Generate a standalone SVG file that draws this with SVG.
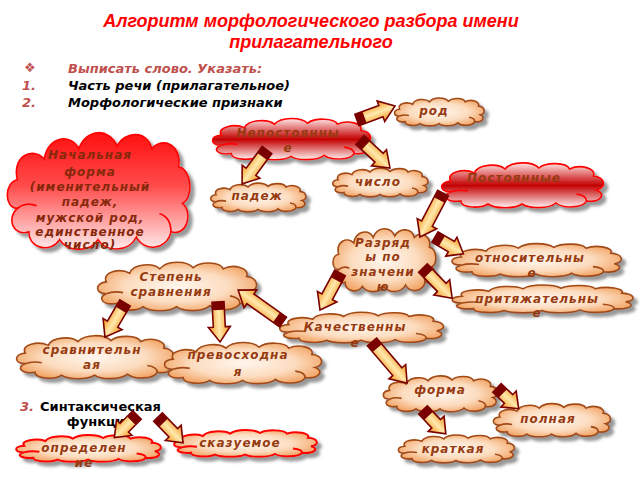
<svg xmlns="http://www.w3.org/2000/svg" xmlns:xlink="http://www.w3.org/1999/xlink" width="640" height="480" viewBox="0 0 640 480">
<style>
.title{font-family:"Liberation Sans",Arial,sans-serif;font-weight:bold;font-style:italic;font-size:18px;fill:#ff0000;text-anchor:middle}
.li{font-family:"DejaVu Sans",sans-serif;font-weight:bold;font-style:italic;font-size:13px;fill:#000}
.lr{fill:#c0504d}
.t{font-family:"DejaVu Sans",sans-serif;font-weight:bold;font-style:italic;font-size:12px;letter-spacing:1px;fill:#963a10;text-anchor:middle}
.td{fill:#86280a}
.syn{font-family:"DejaVu Sans",sans-serif;font-weight:bold;font-size:13px;fill:#000}
.co{fill:url(#gOr);stroke:#a24a16;stroke-width:1.6;filter:url(#sh)}
.cr{fill:url(#gOr);stroke:#ff0000;stroke-width:2;filter:url(#sh)}
.cbig{fill:url(#gRed);stroke:#ff0000;stroke-width:1.6;filter:url(#sh)}
.cband{fill:url(#gBand);stroke:#ff0000;stroke-width:1.6;filter:url(#sh)}
.ab{fill:url(#gAr);stroke:#7a0000;stroke-width:1.6;stroke-linejoin:miter}
.at{fill:#7a0000}
</style>
<defs>
<filter id="sh" x="-10%" y="-10%" width="130%" height="140%">
<feDropShadow dx="4" dy="4" stdDeviation="1.5" flood-color="#777" flood-opacity="0.75"/>
</filter>
<radialGradient id="gOr" cx="0.5" cy="0.5" r="0.6">
<stop offset="0" stop-color="#fff6ee"/>
<stop offset="0.55" stop-color="#fcdcbf"/>
<stop offset="1" stop-color="#f09a55"/>
</radialGradient>
<linearGradient id="gRed" x1="0" y1="0" x2="0" y2="1">
<stop offset="0" stop-color="#ff1010"/>
<stop offset="0.45" stop-color="#ff4a4a"/>
<stop offset="1" stop-color="#ffeaea"/>
</linearGradient>
<linearGradient id="gBand" x1="0" y1="0" x2="0" y2="1">
<stop offset="0" stop-color="#ffe6e6"/>
<stop offset="0.5" stop-color="#c40000"/>
<stop offset="1" stop-color="#fff2f2"/>
</linearGradient>
<linearGradient id="gAr" x1="0" y1="0" x2="0" y2="1">
<stop offset="0" stop-color="#f59418"/>
<stop offset="0.5" stop-color="#ffe9ad"/>
<stop offset="1" stop-color="#f59418"/>
</linearGradient>
<symbol id="cloud" viewBox="0 0 100 50" preserveAspectRatio="none" overflow="visible">
<path vector-effect="non-scaling-stroke" d="M8,34 C1,34 1,24 8,23 C5,14 16,10 22,15 C24,6 36,5 40,11 C44,3 56,3 60,10 C64,4 76,4 78,11 C84,6 94,10 92,18 C99,19 100,30 94,32 C100,36 96,45 88,43 C86,50 74,51 70,45 C66,51 54,51 50,46 C46,51 34,51 30,46 C26,51 14,50 14,43 C6,45 2,38 8,34 Z"/>
<path vector-effect="non-scaling-stroke" fill="none" d="M88,43 C88,39 86,37 82,36 M8,34 C11,32 15,32 18,33"/>
</symbol>
</defs>

<g id="header">
<text class="title" x="311" y="27">Алгоритм морфологического разбора имени</text>
<text class="title" x="311" y="48">прилагательного</text>
<text class="li lr" x="24" y="72" font-size="10" font-style="normal">❖</text>
<text class="li lr" x="68" y="73">Выписать слово. Указать:</text>
<text class="li lr" x="22" y="90">1.</text>
<text class="li" x="68" y="90">Часть речи (прилагательное)</text>
<text class="li lr" x="22" y="107">2.</text>
<text class="li" x="68" y="107">Морфологические признаки</text>
</g>

<g id="node-rod"><use xlink:href="#cloud" class="co" x="392" y="95" width="94" height="31"/><text class="t" x="434" y="115">род</text></g>
<g id="node-nepost"><use xlink:href="#cloud" class="cband" x="208" y="114" width="166" height="46"/><text class="t" x="288" y="137">Непостоянны</text><text class="t" x="288" y="152">е</text></g>
<g id="node-chislo"><use xlink:href="#cloud" class="co" x="330" y="165" width="100" height="32"/><text class="t" x="378" y="186">число</text></g>
<g id="node-post"><use xlink:href="#cloud" class="cband" x="437" y="158" width="170" height="50"/><text class="t" x="514" y="182">Постоянные</text></g>
<g id="node-padezh"><use xlink:href="#cloud" class="co" x="208" y="180" width="100" height="32"/><text class="t" x="257" y="200">падеж</text></g>
<g id="node-nach"><use xlink:href="#cloud" class="cbig" x="2" y="120" width="192" height="130"/>
<text class="t td" x="90" y="159">Начальная</text>
<text class="t td" x="90" y="176">форма</text>
<text class="t td" x="90" y="191">(именительный</text>
<text class="t td" x="90" y="206">падеж,</text>
<text class="t td" x="90" y="222">мужской род,</text>
<text class="t td" x="90" y="236">единственное</text>
<text class="t td" x="90" y="249">число)</text>
</g>
<g id="node-razr"><use xlink:href="#cloud" class="co" x="330" y="222" width="108" height="70"/>
<text class="t" x="383" y="247">Разряд</text><text class="t" x="383" y="261">ы по</text><text class="t" x="383" y="276">значени</text><text class="t" x="383" y="291">ю</text></g>
<g id="node-otn"><use xlink:href="#cloud" class="co" x="447" y="240" width="178" height="37"/><text class="t" x="530" y="262">относительны</text><text class="t" x="532" y="277">е</text></g>
<g id="node-prit"><use xlink:href="#cloud" class="co" x="447" y="282" width="190" height="31"/><text class="t" x="537" y="303">притяжательны</text><text class="t" x="537" y="317">е</text></g>
<g id="node-step"><use xlink:href="#cloud" class="co" x="93" y="257" width="167" height="54"/><text class="t" x="171" y="281">Степень</text><text class="t" x="171" y="296">сравнения</text></g>
<g id="node-kach"><use xlink:href="#cloud" class="co" x="275" y="309" width="172" height="34"/><text class="t" x="355" y="331">Качественны</text><text class="t" x="355" y="347">е</text></g>
<g id="node-sravn"><use xlink:href="#cloud" class="co" x="12" y="331" width="165" height="48"/><text class="t" x="92" y="354">сравнительн</text><text class="t" x="92" y="369">ая</text></g>
<g id="node-prevos"><use xlink:href="#cloud" class="co" x="160" y="338" width="165" height="46"/><text class="t" x="238" y="359">превосходна</text><text class="t" x="238" y="376">я</text></g>
<g id="node-forma"><use xlink:href="#cloud" class="co" x="380" y="372" width="120" height="40"/><text class="t" x="440" y="394">форма</text></g>
<g id="node-polnaya"><use xlink:href="#cloud" class="co" x="490" y="400" width="123" height="37"/><text class="t" x="548" y="423">полная</text></g>
<g id="node-kratkaya"><use xlink:href="#cloud" class="co" x="395" y="432" width="122" height="31"/><text class="t" x="453" y="453">краткая</text></g>
<g id="node-synt">
<text class="li lr" x="20" y="411" font-style="normal">3.</text>
<text class="syn" x="40" y="411">Синтаксическая</text>
<text class="syn" x="100" y="426" text-anchor="middle">функция</text>
</g>
<g id="node-opred"><use xlink:href="#cloud" class="cr" x="12" y="432" width="152" height="30"/><text class="t" x="84" y="452">определен</text><text class="t" x="84" y="467">ие</text></g>
<g id="node-skaz"><use xlink:href="#cloud" class="cr" x="170" y="427" width="150" height="30"/><text class="t" x="240" y="447">сказуемое</text></g>

<g id="connectors">
<g transform="translate(357,120) rotate(-20.2)"><path class="ab" d="M0,-6 H25.5 V-11 L40.5,0 L25.5,11 V6 H0 Z"/><rect class="at" x="0" y="-6" width="8" height="12"/></g>
<g transform="translate(360,140) rotate(43)"><path class="ab" d="M0,-6 H26 V-11 L41,0 L26,11 V6 H0 Z"/><rect class="at" x="0" y="-6" width="8" height="12"/></g>
<g transform="translate(267,150) rotate(126.3)"><path class="ab" d="M0,-6 H27 V-11 L42,0 L27,11 V6 H0 Z"/><rect class="at" x="0" y="-6" width="8" height="12"/></g>
<g transform="translate(443,193) rotate(117.6)"><path class="ab" d="M0,-6 H34.6 V-11 L49.6,0 L34.6,11 V6 H0 Z"/><rect class="at" x="0" y="-6" width="8" height="12"/></g>
<g transform="translate(435,237) rotate(30.6)"><path class="ab" d="M0,-6 H19 V-11 L33,0 L19,11 V6 H0 Z"/><rect class="at" x="0" y="-6" width="8" height="12"/></g>
<g transform="translate(423,268) rotate(46)"><path class="ab" d="M0,-6 H27 V-11 L42,0 L27,11 V6 H0 Z"/><rect class="at" x="0" y="-6" width="8" height="12"/></g>
<g transform="translate(340,273) rotate(118.4)"><path class="ab" d="M0,-6 H27 V-11 L42,0 L27,11 V6 H0 Z"/><rect class="at" x="0" y="-6" width="8" height="12"/></g>
<g transform="translate(283,322) rotate(-144.6)"><path class="ab" d="M0,-6 H40 V-11 L55,0 L40,11 V6 H0 Z"/><rect class="at" x="0" y="-6" width="8" height="12"/></g>
<g transform="translate(125,303) rotate(120.5)"><path class="ab" d="M0,-6 H24.5 V-11 L39.5,0 L24.5,11 V6 H0 Z"/><rect class="at" x="0" y="-6" width="8" height="12"/></g>
<g transform="translate(218,302) rotate(87)"><path class="ab" d="M0,-6 H25 V-11 L40,0 L25,11 V6 H0 Z"/><rect class="at" x="0" y="-6" width="8" height="12"/></g>
<g transform="translate(372,342) rotate(49.5)"><path class="ab" d="M0,-6 H39 V-11 L54,0 L39,11 V6 H0 Z"/><rect class="at" x="0" y="-6" width="8" height="12"/></g>
<g transform="translate(497,388) rotate(43.6)"><path class="ab" d="M0,-6 H16 V-11 L30,0 L16,11 V6 H0 Z"/><rect class="at" x="0" y="-6" width="8" height="12"/></g>
<g transform="translate(423,410) rotate(46.3)"><path class="ab" d="M0,-6 H19 V-11 L33,0 L19,11 V6 H0 Z"/><rect class="at" x="0" y="-6" width="8" height="12"/></g>
<g transform="translate(137,415) rotate(135)"><path class="ab" d="M0,-6 H18 V-11 L32,0 L18,11 V6 H0 Z"/><rect class="at" x="0" y="-6" width="8" height="12"/></g>
<g transform="translate(158,417) rotate(46)"><path class="ab" d="M0,-6 H22 V-11 L36,0 L22,11 V6 H0 Z"/><rect class="at" x="0" y="-6" width="8" height="12"/></g>
</g>
</svg>
